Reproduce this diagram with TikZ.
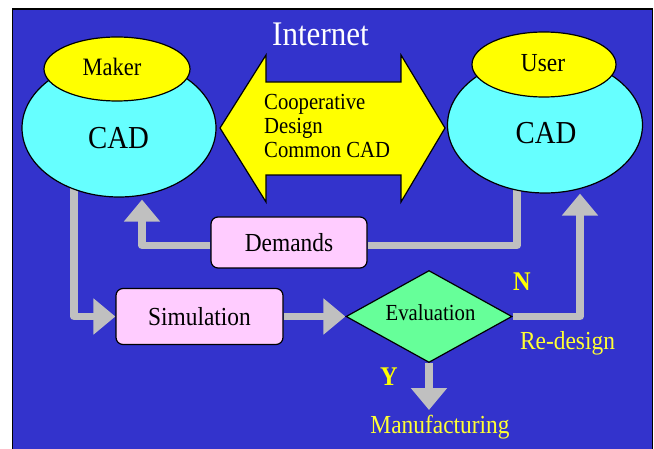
\documentclass[tikz,border=0pt]{standalone}
\usepackage{fontspec}
\setmainfont[FakeStretch=0.9]{Liberation Serif}
\usetikzlibrary{shapes.geometric,arrows.meta}
\definecolor{bgblue}{HTML}{3333CC}
\definecolor{cadcyan}{HTML}{66FFFF}
\definecolor{tagyellow}{HTML}{FFFF00}
\definecolor{boxpink}{HTML}{FFCCFF}
\definecolor{evalgreen}{HTML}{66FF99}
\definecolor{flowgray}{HTML}{C0C0C0}
\definecolor{labelyellow}{HTML}{FFFF33}
\pgfdeclarelayer{bglayer}
\pgfdeclarelayer{flowlayer}
\pgfsetlayers{bglayer,flowlayer,main}
\newcommand{\fs}[1]{\fontsize{#1}{#1}\selectfont}
\begin{document}
\begin{tikzpicture}[x=1pt,y=-1pt,
  cadbody/.style={ellipse,draw=black,line width=1.2pt,fill=cadcyan,inner sep=0pt},
  cadtag/.style={ellipse,draw=black,line width=1.2pt,fill=tagyellow,inner sep=0pt},
  procbox/.style={rectangle,rounded corners=7pt,draw=black,line width=1.2pt,fill=boxpink,inner sep=0pt},
  decision/.style={diamond,draw=black,line width=1.2pt,fill=evalgreen,inner sep=0pt},
  flow/.style={draw=flowgray,line width=7.5pt,line join=round},
  flowarrow/.style={flow,-{Triangle[width=35pt,length=22pt]}},
  ylabel/.style={text=labelyellow,font=\fs{26},anchor=base,inner sep=0pt},
  answer/.style={text=tagyellow,font=\bfseries\fs{27},anchor=base,inner sep=0pt}]
\useasboundingbox (0,0) rectangle (654,449);

% slide background
\begin{pgfonlayer}{bglayer}
  \fill[white] (0,0) rectangle (654,449);
  \filldraw[fill=bgblue,draw=black,line width=1.2pt] (12.5,9) rectangle (652.5,460);
\end{pgfonlayer}

\node[text=white,font=\fs{34.5},anchor=base,inner sep=0pt] (inet) at (320.5,46) {Internet};

% maker side
\node[cadbody,minimum width=194pt,minimum height=138pt] (cadL) at (119,128) {};
\node[cadtag,minimum width=146pt,minimum height=64pt] (makerL) at (117,69) {};
\node[font=\fs{25},anchor=base,inner sep=0pt] (makertxt) at (112,76) {Maker};
\node[font=\fs{32},anchor=base,inner sep=0pt] (cadLtxt) at (118.5,149) {CAD};

% user side
\node[cadbody,minimum width=195pt,minimum height=136pt] (cadR) at (545,125) {};
\node[cadtag,minimum width=144pt,minimum height=65pt] (userR) at (544,64.5) {};
\node[font=\fs{26},anchor=base,inner sep=0pt] (usertxt) at (543,72) {User};
\node[font=\fs{32},anchor=base,inner sep=0pt] (cadRtxt) at (546,144) {CAD};

% two-headed arrow between the CAD systems
\filldraw[fill=tagyellow,draw=black,line width=1.2pt]
  (220,128) -- (266,55) -- (266,82) -- (401,82) -- (401,55) -- (445,128)
  -- (401,202) -- (401,175) -- (266,175) -- (266,202) -- cycle;
\node[font=\fs{23},align=left,anchor=west,inner sep=0pt,
      execute at begin node=\setlength{\baselineskip}{24pt}] (coop) at (264,126)
  {Cooperative\\Design\\Common CAD};

% process boxes and decision
\node[procbox,minimum width=156pt,minimum height=51pt,font=\fs{26}] (dem) at (289,242.5) {Demands};
\node[procbox,minimum width=167pt,minimum height=56pt,font=\fs{26}] (sim) at (199.5,316.5) {Simulation};
\node[decision,minimum width=166pt,minimum height=92pt] (eval) at (429,316.5) {};
\node[font=\fs{23},anchor=base,inner sep=0pt] (evaltxt) at (430.5,320.7) {Evaluation};

% outcome labels
\node[answer] (no) at (522,291) {N};
\node[answer] (yes) at (389,385) {Y};
\node[ylabel] (redesign) at (567.5,349) {Re-design};
\node[ylabel] (mfg) at (440,433) {Manufacturing};
\coordinate (mfgtip) at (429,410);

% connectors
\begin{pgfonlayer}{flowlayer}
  \draw[flowarrow] ([xshift=-45pt]cadL.center) |- (sim.west);
  \draw[flowarrow] ([yshift=-3pt]dem.west) -| ([xshift=23pt,yshift=-2pt]cadL.south);
  \draw[flow] ([yshift=-3pt]dem.east) -| ([xshift=-28pt]cadR.center);
  \draw[flowarrow] (sim.east) -- (eval.west);
  \draw[flowarrow] (eval.east) -| ([xshift=35pt]cadR.south);
  \draw[flowarrow] (eval.south) -- (mfgtip);
\end{pgfonlayer}
\end{tikzpicture}
\end{document}
